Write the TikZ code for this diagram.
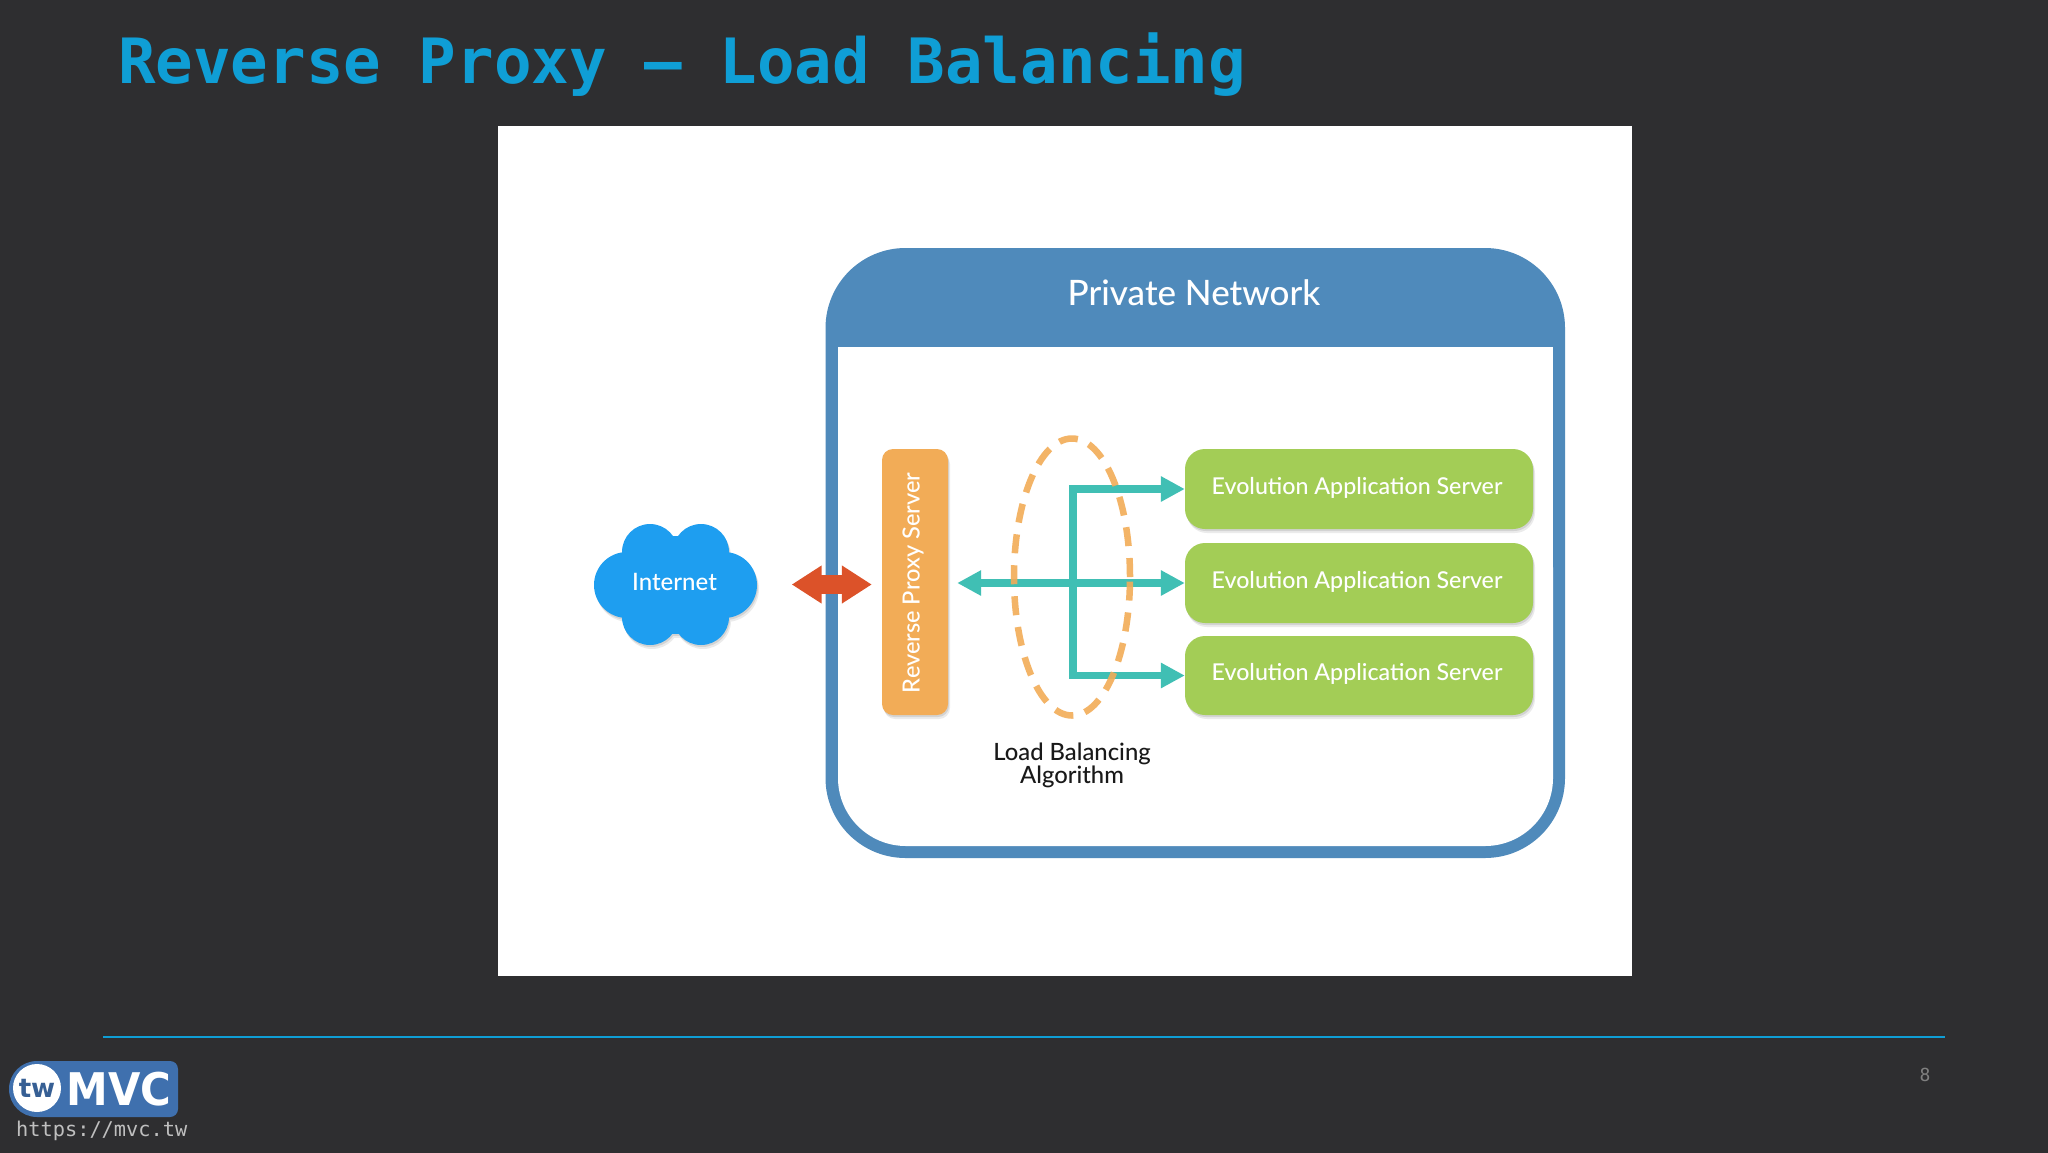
\documentclass[tikz,border=0pt]{standalone}
\usepackage{fontspec}
\setmainfont{Lato Medium}
\newfontfamily\monof{DejaVu Sans Mono}
\newfontfamily\logof{DejaVu Sans}
\usetikzlibrary{arrows.meta,shapes.geometric,shadows}
\definecolor{bgc}{HTML}{2E2E30}
\definecolor{titlec}{HTML}{0F9ED5}
\definecolor{netc}{HTML}{4F8ABB}
\definecolor{proxc}{HTML}{F2AC57}
\definecolor{servc}{HTML}{A3CD56}
\definecolor{tealc}{HTML}{40BFB4}
\definecolor{redc}{HTML}{DC5229}
\definecolor{cloudc}{HTML}{1E9EF0}
\definecolor{logoc}{HTML}{3F70AE}
\newcommand{\fsz}[1]{\fontsize{#1}{#1}\selectfont}
\newcommand{\cloudshape}{(650,552) circle (28) (701,552) circle (28) (627,585) circle (33) (724,585) circle (33) (650,617) circle (28) (701,617) circle (28) (676,585) circle (49)}
\tikzset{
  softshadow/.style={
    general shadow={shadow xshift=1pt,shadow yshift=-2pt,fill=black,opacity=.1},
    general shadow={shadow xshift=2pt,shadow yshift=-4pt,fill=black,opacity=.08}},
  server/.style={fill=servc,rounded corners=20pt,minimum width=348pt,minimum height=80pt,inner sep=0pt,softshadow},
  servertext/.style={text=white,inner sep=0pt,font=\fsz{23.2}},
  tealline/.style={draw=tealc,line width=7.5pt},
  tealhead/.style={-{Triangle[length=24pt,width=24pt]}},
  tealboth/.style={{Triangle[length=24pt,width=24pt]}-{Triangle[length=24pt,width=24pt]}}
}
\begin{document}
\begin{tikzpicture}[x=1pt,y=-1pt]
\useasboundingbox (0,0) rectangle (2048,1152);
\fill[bgc] (-3,-3) rectangle (2051,1155);
% title
\node[anchor=west,inner sep=0pt,text=titlec,font=\monof\bfseries\fsz{62.45}] (title) at (118,65) {Reverse Proxy – Load Balancing};
% picture
\fill[white] (498,126) rectangle (1632,976);
% private network
\node[fill=netc,rounded corners=80pt,minimum width=739.5pt,minimum height=610pt,inner sep=0pt] (net) at (1195.25,553) {};
\path[fill=white,rounded corners=68pt] (838,500) -- (838,846) -- (1553,846) -- (1553,500) -- cycle;
\fill[white] (838,347) rectangle (1553,600);
\node[text=white,font=\fsz{35},inner sep=0pt] (nettitle) at (1194,293) {Private Network};
% cloud
\fill[black,opacity=.1,shift={(1,2)}] \cloudshape;
\fill[black,opacity=.08,shift={(2,4)}] \cloudshape;
\fill[cloudc] \cloudshape;
\node[text=white,font=\fsz{24},minimum width=164pt,minimum height=60pt,inner sep=0pt] (internet) at (674.5,582) {Internet};
% proxy
\node[fill=proxc,rounded corners=11pt,minimum width=66pt,minimum height=266pt,inner sep=0pt,softshadow] (proxy) at (915,582) {};
\node[rotate=90,text=white,font=\fsz{23.6},inner sep=0pt] (proxytext) at (913,583) {Reverse Proxy Server};
% servers
\node[server] (s1) at (1359,489) {};
\node[server] (s2) at (1359,583) {};
\node[server,minimum height=79pt] (s3) at (1359,675.5) {};
\node[servertext] (t1) at (1357,488) {Evolution Application Server};
\node[servertext] (t2) at (1357,581.5) {Evolution Application Server};
\node[servertext] (t3) at (1357,673.5) {Evolution Application Server};
% red double arrow
\draw[redc,line width=19pt,shorten <=35pt,shorten >=10pt,transform canvas={yshift=-2.5pt},{Triangle[length=30pt,width=36pt]}-{Triangle[length=30pt,width=36pt]}] (internet.east |- proxy.west) -- (proxy.west);
% teal connectors
\coordinate (junction) at (1073,583);
\draw[tealline,tealboth,shorten <=9pt] (proxy.east |- s2.west) -- (s2.west);
\draw[tealline,tealhead] (junction) |- (s1.west);
\draw[tealline,tealhead] (junction) |- (s3.west);
% dashed ellipse
\node[ellipse,draw=proxc,line width=6.5pt,dash pattern=on 19pt off 12pt,opacity=.9,minimum width=116pt,minimum height=277pt,inner sep=0pt] (algo) at (1072,577) {};
\node[text=black!90,font=\fsz{23.8},align=center,inner sep=0pt] (algotext) at (1072,765.5) {Load Balancing\\[-0.5pt]Algorithm};
% footer
\coordinate (ruleL) at (103,1037);
\coordinate (ruleR) at (1945,1037);
\draw[titlec,line width=2pt] (ruleL) -- (ruleR);
\node[text=black!50!white,font=\monof\fsz{18},inner sep=0pt] (pagenum) at (1925,1075) {8};
% logo
\path[fill=logoc] (37,1061) -- (170,1061) to[out=0,in=90] (178,1069) -- (178,1109) to[out=-90,in=0] (170,1117) -- (37,1117) to[out=180,in=-90] (9,1089) to[out=90,in=180] (37,1061) -- cycle;
\node[circle,fill=white,minimum size=48pt,inner sep=0pt,text=logoc!85!black,font=\logof\bfseries\fsz{26}] (tw) at (37,1088) {tw};
\node[text=white,font=\logof\bfseries\fsz{45},inner sep=0pt,xscale=.93] (mvc) at (119,1089) {MVC};
\node[text=black!25!white,font=\monof\fsz{20.3},inner sep=0pt,anchor=west] (url) at (16,1131) {https://mvc.tw};
\end{tikzpicture}
\end{document}
